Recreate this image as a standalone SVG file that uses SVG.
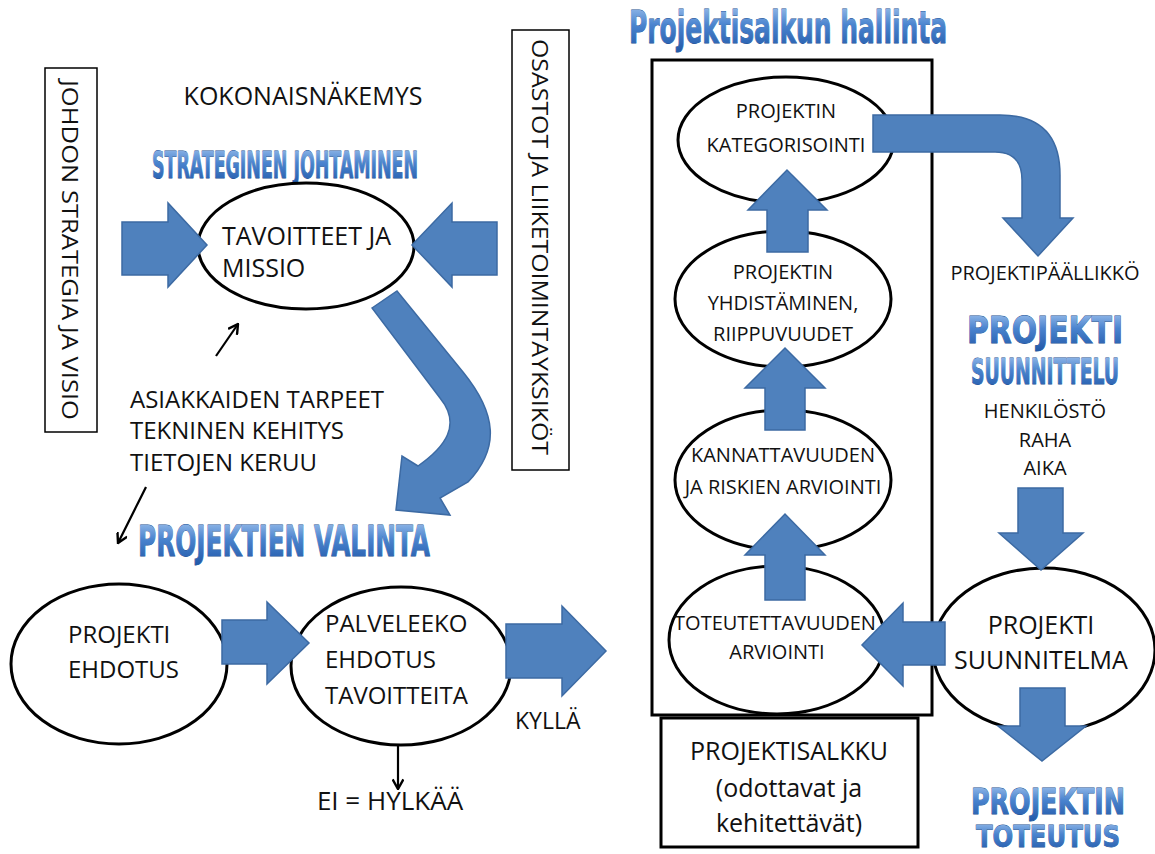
<svg xmlns="http://www.w3.org/2000/svg" width="1155" height="854" viewBox="0 0 1155 854">
  <style>
    .bg { fill: #ffffff; }
    .lbl { font-family: "Open Sans", "Liberation Sans", sans-serif; fill: #111; }
    .side { font-size: 22px; }
    .t25 { font-size: 25px; }
    .t24 { font-size: 24px; }
    .t20 { font-size: 20px; }
    .node { fill: #ffffff; stroke: #000; stroke-width: 3; }
    .box { fill: #ffffff; stroke: #000; stroke-width: 1.5; }
    .frame { fill: none; stroke: #000; stroke-width: 3; }
    .blk { fill: #4f81bd; stroke: #3c6aa3; stroke-width: 1.5; stroke-linejoin: miter; }
    .thin { fill: none; stroke: #000; stroke-width: 2.2; }
    .art { font-family: "DejaVu Sans Condensed", "Liberation Sans", sans-serif; font-weight: bold; fill: url(#artFill); stroke: #234f8f; stroke-width: 0.8; paint-order: stroke; }
  </style>
  <defs>
    <linearGradient id="artFill" x1="0" y1="0" x2="0" y2="1">
      <stop offset="0" stop-color="#a8c8f0"/>
      <stop offset="0.45" stop-color="#4a84cf"/>
      <stop offset="1" stop-color="#1f56a6"/>
    </linearGradient>
    <marker id="open" markerWidth="12" markerHeight="12" refX="9" refY="5" orient="auto" markerUnits="userSpaceOnUse" viewBox="0 0 10 10">
      <path d="M1,0.5 L9,5 L1,9.5" fill="none" stroke="#000" stroke-width="2"/>
    </marker>
  </defs>

  <rect class="bg" x="0" y="0" width="1155" height="854"/>

  <!-- side labels -->
  <g id="johdon-strategia">
    <rect class="box" x="45" y="68" width="52" height="364"/>
    <text class="lbl side" transform="translate(71,250) rotate(90)" text-anchor="middle" dominant-baseline="central" textLength="340" lengthAdjust="spacingAndGlyphs">JOHDON STRATEGIA JA VISIO</text>
  </g>
  <g id="osastot">
    <rect class="box" x="512" y="30" width="57" height="440"/>
    <text class="lbl side" transform="translate(541,247) rotate(90)" text-anchor="middle" dominant-baseline="central" textLength="416" lengthAdjust="spacingAndGlyphs">OSASTOT JA LIIKETOIMINTAYKSIKÖT</text>
  </g>

  <!-- headings -->
  <g id="headings">
    <text class="lbl t25" x="303" y="105" text-anchor="middle">KOKONAISNÄKEMYS</text>
    <text class="art" x="285" y="178" font-size="38" text-anchor="middle" textLength="266" lengthAdjust="spacingAndGlyphs">STRATEGINEN JOHTAMINEN</text>
    <text class="art" x="284" y="556" font-size="42" text-anchor="middle" textLength="292" lengthAdjust="spacingAndGlyphs">PROJEKTIEN VALINTA</text>
    <text class="art" x="788" y="43" font-size="45" text-anchor="middle" textLength="318" lengthAdjust="spacingAndGlyphs">Projektisalkun hallinta</text>
    <text class="lbl t20" x="1045" y="280" text-anchor="middle">PROJEKTIPÄÄLLIKKÖ</text>
    <text class="art" x="1045" y="343" font-size="37" text-anchor="middle" textLength="156" lengthAdjust="spacingAndGlyphs">PROJEKTI</text>
    <text class="art" x="1045" y="384" font-size="35" text-anchor="middle" textLength="148" lengthAdjust="spacingAndGlyphs">SUUNNITTELU</text>
    <text class="lbl t20" x="1045" y="418" text-anchor="middle">HENKILÖSTÖ</text>
    <text class="lbl t20" x="1045" y="447" text-anchor="middle">RAHA</text>
    <text class="lbl t20" x="1045" y="475" text-anchor="middle">AIKA</text>
    <text class="art" x="1048" y="814" font-size="35" text-anchor="middle" textLength="154" lengthAdjust="spacingAndGlyphs">PROJEKTIN</text>
    <text class="art" x="1048" y="847" font-size="31" text-anchor="middle" textLength="144" lengthAdjust="spacingAndGlyphs">TOTEUTUS</text>
  </g>

  <g id="inputs">
    <text class="lbl t24" x="130" y="408">ASIAKKAIDEN TARPEET</text>
    <text class="lbl t24" x="130" y="439">TEKNINEN KEHITYS</text>
    <text class="lbl t24" x="130" y="471">TIETOJEN KERUU</text>
  </g>

  <!-- portfolio frame -->
  <rect id="portfolio-frame" class="frame" x="652" y="60" width="280" height="655"/>

  <!-- nodes -->
  <g id="tavoitteet">
    <ellipse class="node" cx="306" cy="246" rx="108" ry="63"/>
    <text class="lbl t25" x="222" y="245">TAVOITTEET JA</text>
    <text class="lbl t25" x="222" y="277">MISSIO</text>
  </g>
  <g id="projekti-ehdotus">
    <ellipse class="node" cx="119" cy="664" rx="108" ry="80"/>
    <text class="lbl t24" x="68" y="643">PROJEKTI</text>
    <text class="lbl t24" x="68" y="678">EHDOTUS</text>
  </g>
  <g id="palveleeko">
    <ellipse class="node" cx="401" cy="666" rx="110" ry="79"/>
    <text class="lbl t24" x="325" y="632">PALVELEEKO</text>
    <text class="lbl t24" x="325" y="668">EHDOTUS</text>
    <text class="lbl t24" x="325" y="704">TAVOITTEITA</text>
  </g>
  <g id="kategorisointi">
    <ellipse class="node" cx="786" cy="140" rx="108" ry="63"/>
    <text class="lbl t20" x="786" y="118" text-anchor="middle">PROJEKTIN</text>
    <text class="lbl t20" x="786" y="152" text-anchor="middle">KATEGORISOINTI</text>
  </g>
  <g id="yhdistaminen">
    <ellipse class="node" cx="783" cy="299" rx="108" ry="68"/>
    <text class="lbl t20" x="783" y="279" text-anchor="middle">PROJEKTIN</text>
    <text class="lbl t20" x="783" y="310" text-anchor="middle">YHDISTÄMINEN,</text>
    <text class="lbl t20" x="783" y="341" text-anchor="middle">RIIPPUVUUDET</text>
  </g>
  <g id="kannattavuus">
    <ellipse class="node" cx="783" cy="480" rx="108" ry="70"/>
    <text class="lbl t20" x="783" y="462" text-anchor="middle">KANNATTAVUUDEN</text>
    <text class="lbl t20" x="783" y="494" text-anchor="middle">JA RISKIEN ARVIOINTI</text>
  </g>
  <g id="toteutettavuus">
    <ellipse class="node" cx="777" cy="640" rx="108" ry="74"/>
    <text class="lbl t20" x="775" y="630" text-anchor="middle">TOTEUTETTAVUUDEN</text>
    <text class="lbl t20" x="777" y="659" text-anchor="middle">ARVIOINTI</text>
  </g>
  <g id="suunnitelma">
    <ellipse class="node" cx="1044" cy="650" rx="111" ry="82"/>
    <text class="lbl t25" x="1041" y="634" text-anchor="middle">PROJEKTI</text>
    <text class="lbl t25" x="1041" y="669" text-anchor="middle">SUUNNITELMA</text>
  </g>
  <g id="projektisalkku">
    <rect class="frame" x="661" y="718" width="257" height="129"/>
    <text class="lbl" font-size="25" x="789" y="760" text-anchor="middle">PROJEKTISALKKU</text>
    <text class="lbl" font-size="25" x="789" y="797" text-anchor="middle">(odottavat ja</text>
    <text class="lbl" font-size="25" x="789" y="832" text-anchor="middle">kehitettävät)</text>
  </g>
  <g id="outcome-labels">
    <text class="lbl" font-size="23" x="515" y="729">KYLLÄ</text>
    <text class="lbl" font-size="26" x="390" y="810" text-anchor="middle">EI = HYLKÄÄ</text>
  </g>

  <!-- connectors -->
  <g id="connectors">
    <!-- into TAVOITTEET JA MISSIO -->
    <polygon class="blk" points="122,222 168,222 168,203 207,245 168,287 168,275 122,275"/>
    <polygon class="blk" points="497,222 452,222 452,203 412,245 452,287 452,275 497,275"/>
    <!-- curved arrow down to project selection -->
    <path class="blk" d="M372,308 L397,291 L463,372 C497,414 500,448 468,482 L440,498 L450,515 L396,510 L402,456 L418,466 C445,447 462,425 440,398 Z"/>
    <!-- thin arrows -->
    <line class="thin" x1="216" y1="356" x2="238" y2="324" marker-end="url(#open)"/>
    <line class="thin" x1="146" y1="487" x2="118" y2="543" marker-end="url(#open)"/>
    <line class="thin" x1="398" y1="745" x2="398" y2="789" marker-end="url(#open)"/>
    <!-- selection flow -->
    <polygon class="blk" points="222,620 267,620 267,602 309,643 267,684 267,664 222,664"/>
    <polygon class="blk" points="506,624 562,624 562,606 606,651 562,696 562,678 506,678"/>
    <!-- portfolio chain, upward -->
    <polygon class="blk" points="767,252 767,210 748,210 787,170 827,210 808,210 808,252"/>
    <polygon class="blk" points="765,430 765,388 745,388 785,348 825,388 805,388 805,430"/>
    <polygon class="blk" points="765,600 765,555 745,555 785,514 825,555 805,555 805,600"/>
    <!-- from planning back into feasibility -->
    <polygon class="blk" points="945,622 903,622 903,603 862,645 903,686 903,665 945,665"/>
    <!-- categorisation out to planning -->
    <path class="blk" d="M873,115 L1000,115 Q1060,115 1060,175 L1060,218 L1073,218 L1038,256 L1003,218 L1022,218 L1022,180 Q1022,152 995,152 L873,152 Z"/>
    <!-- resources into plan -->
    <polygon class="blk" points="1018,488 1063,488 1063,533 1083,533 1041,570 999,533 1018,533"/>
    <!-- plan to execution -->
    <polygon class="blk" points="1020,688 1065,688 1065,726 1086,726 1042,761 998,726 1020,726"/>
  </g>
</svg>
